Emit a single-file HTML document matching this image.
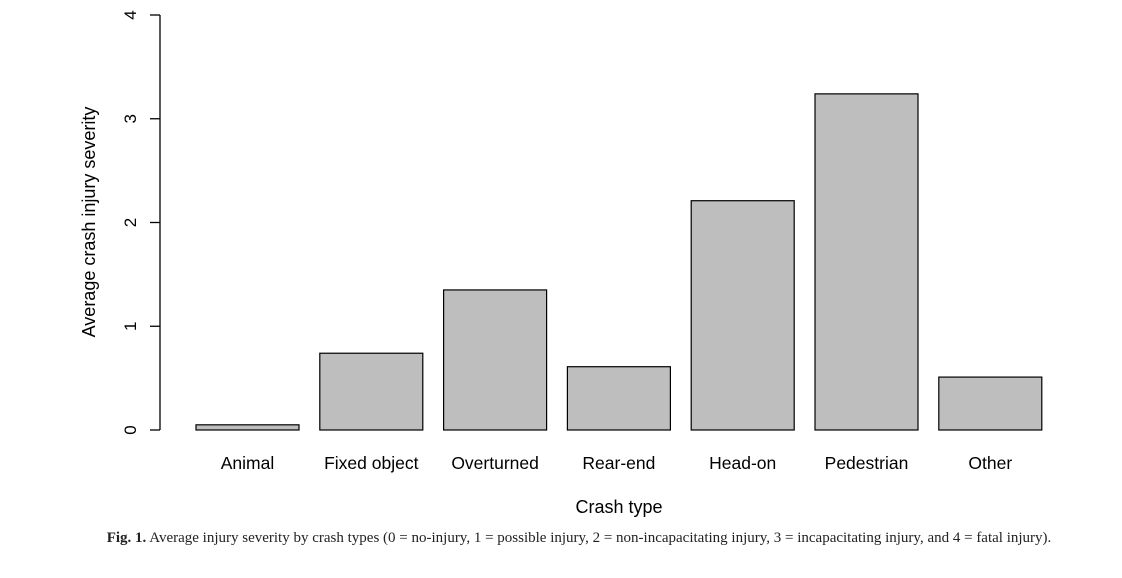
<!DOCTYPE html>
<html><head><meta charset="utf-8"><style>
body{margin:0;background:#fff;width:1122px;height:578px;overflow:hidden}
svg{display:block}
</style></head><body>
<svg width="1122" height="578" font-family="Liberation Sans, sans-serif">
<g id="axis"></g>
<g id="bars"></g>
<text transform="translate(95,222) rotate(-90)" text-anchor="middle" font-size="18" fill="#000">Average crash injury severity</text>
<text x="619" y="513" text-anchor="middle" font-size="18" fill="#000">Crash type</text>
<text x="579" y="542" text-anchor="middle" font-family="Liberation Serif, serif" font-size="15" fill="#222"><tspan font-weight="bold">Fig. 1.</tspan> Average injury severity by crash types (0 = no-injury, 1 = possible injury, 2 = non-incapacitating injury, 3 = incapacitating injury, and 4 = fatal injury).</text>
</svg>
<script>
const categories=["Animal","Fixed object","Overturned","Rear-end","Head-on","Pedestrian","Other"];
const values=[0.05,0.74,1.35,0.61,2.21,3.24,0.51];
const yTicks=[0,1,2,3,4];
const ns="http://www.w3.org/2000/svg";
const y=v=>430-v*103.75;
const x=i=>196+i*123.8;
const bw=103;
function mk(t,a,p){const e=document.createElementNS(ns,t);for(const k in a)e.setAttribute(k,a[k]);p.appendChild(e);return e;}
const ax=document.getElementById('axis'),bars=document.getElementById('bars');
mk('line',{x1:160,x2:160,y1:y(4),y2:y(0),stroke:'#000','stroke-width':1.3},ax);
yTicks.forEach(t=>{
 const l=mk('line',{x1:150,x2:160,y1:y(t),y2:y(t),stroke:'#000','stroke-width':1.3},ax);
 
 
 const tx=mk('text',{transform:`translate(136,${y(t)}) rotate(-90)`,'text-anchor':'middle','font-size':17},ax);
 tx.textContent=t;
 
 
});
categories.forEach((c,i)=>{
 const r=mk('rect',{x:x(i),y:y(values[i]),width:bw,height:y(0)-y(values[i]),fill:'#bebebe',stroke:'#000','stroke-width':1.2},bars);
 
 
 const t=mk('text',{x:x(i)+bw/2,y:469,'text-anchor':'middle','font-size':17.5},bars);
 t.textContent=c;
 
 
});
</script>
</body></html>
